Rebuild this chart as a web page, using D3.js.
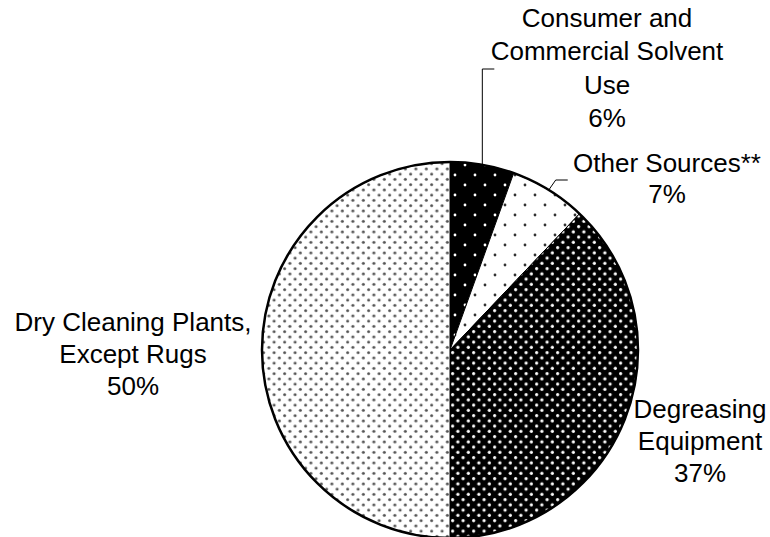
<!DOCTYPE html>
<html>
<head>
<meta charset="utf-8">
<script src="https://cdn.jsdelivr.net/npm/d3@7"></script>
<style>
  body { margin: 0; background: #fff; }
  text { font-family: "Liberation Sans", Arial, sans-serif; font-size: 26px; fill: #000; }
</style>
</head>
<body>
<script>
// Set up size
var width = 770;
var height = 537;

// Chart data (slices clockwise from 12 o'clock)
var categories = ["Consumer and Commercial Solvent Use", "Other Sources**", "Degreasing Equipment", "Dry Cleaning Plants, Except Rugs"];
var shares = [5.5, 6.6, 37.9, 50];
var pctLabels = ["6%", "7%", "37%", "50%"];
var labelLines = [
  ["Consumer and", "Commercial Solvent", "Use", "6%"],
  ["Other Sources**", "7%"],
  ["Degreasing", "Equipment", "37%"],
  ["Dry Cleaning Plants,", "Except Rugs", "50%"]
];

// Pie placement
var cx = 450, cy = 350, radius = 188;

var svg = d3.select("body").append("svg")
  .attr("width", width)
  .attr("height", height);

// fill patterns, one per slice
var defs = svg.append("defs");
var patterns = [
  { id: "pConsumer", bg: "#000", dot: "#fff", size: 20, r: 1.4 },
  { id: "pOther", bg: "#fff", dot: "#333", size: 20, r: 1.4 },
  { id: "pDegrease", bg: "#000", dot: "#fff", size: 10.5, r: 1.6 },
  { id: "pDry", bg: "#fff", dot: "#555", size: 10.5, r: 1.5 }
];
patterns.forEach(function(p) {
  var pat = defs.append("pattern")
    .attr("id", p.id)
    .attr("patternUnits", "userSpaceOnUse")
    .attr("width", p.size)
    .attr("height", p.size);
  pat.append("rect").attr("width", p.size).attr("height", p.size).attr("fill", p.bg);
  [[0.25, 0.25], [0.75, 0.75]].forEach(function(o) {
    pat.append("circle")
      .attr("cx", p.size * o[0])
      .attr("cy", p.size * o[1])
      .attr("r", p.r)
      .attr("fill", p.dot);
  });
});

var pie = d3.pie().sort(null).value(function(d) { return d; });
var arcs = pie(shares);
var arc = d3.arc().innerRadius(0).outerRadius(radius);

var g = svg.append("g").attr("transform", "translate(" + cx + "," + cy + ")");

g.selectAll("path.slice")
  .data(arcs)
  .enter()
  .append("path")
  .attr("class", "slice")
  .attr("d", arc)
  .attr("fill", function(d, i) { return "url(#" + patterns[i].id + ")"; })
  .attr("stroke", "#000")
  .attr("stroke-width", 1);

// outer border
g.append("circle")
  .attr("r", radius)
  .attr("fill", "none")
  .attr("stroke", "#000")
  .attr("stroke-width", 2.5);

// point on the rim at a slice's mid angle
function rimPoint(d) {
  var a = (d.startAngle + d.endAngle) / 2;
  return [cx + radius * Math.sin(a), cy - radius * Math.cos(a)];
}

// leader lines for the two small slices
var p0 = rimPoint(arcs[0]);
svg.append("path")
  .attr("d", d3.line()([p0, [p0[0], 69], [p0[0] + 12, 69]]))
  .attr("fill", "none")
  .attr("stroke", "#000")
  .attr("stroke-width", 1);

var p1 = rimPoint(arcs[1]);
svg.append("path")
  .attr("d", d3.line()([p1, [p1[0] + 7, 180], [p1[0] + 19, 180]]))
  .attr("fill", "none")
  .attr("stroke", "#000")
  .attr("stroke-width", 1);

// label layout: centre x, first baseline, line step
var labelPos = [
  { x: 607, y: 27, step: 33.3 },
  { x: 667, y: 172, step: 31 },
  { x: 700, y: 418, step: 32 },
  { x: 133, y: 331, step: 32 }
];

labelLines.forEach(function(lines, i) {
  var t = svg.append("text")
    .attr("text-anchor", "middle");
  lines.forEach(function(line, j) {
    t.append("tspan")
      .attr("x", labelPos[i].x)
      .attr("y", labelPos[i].y + j * labelPos[i].step)
      .text(line);
  });
});
</script>
</body>
</html>
